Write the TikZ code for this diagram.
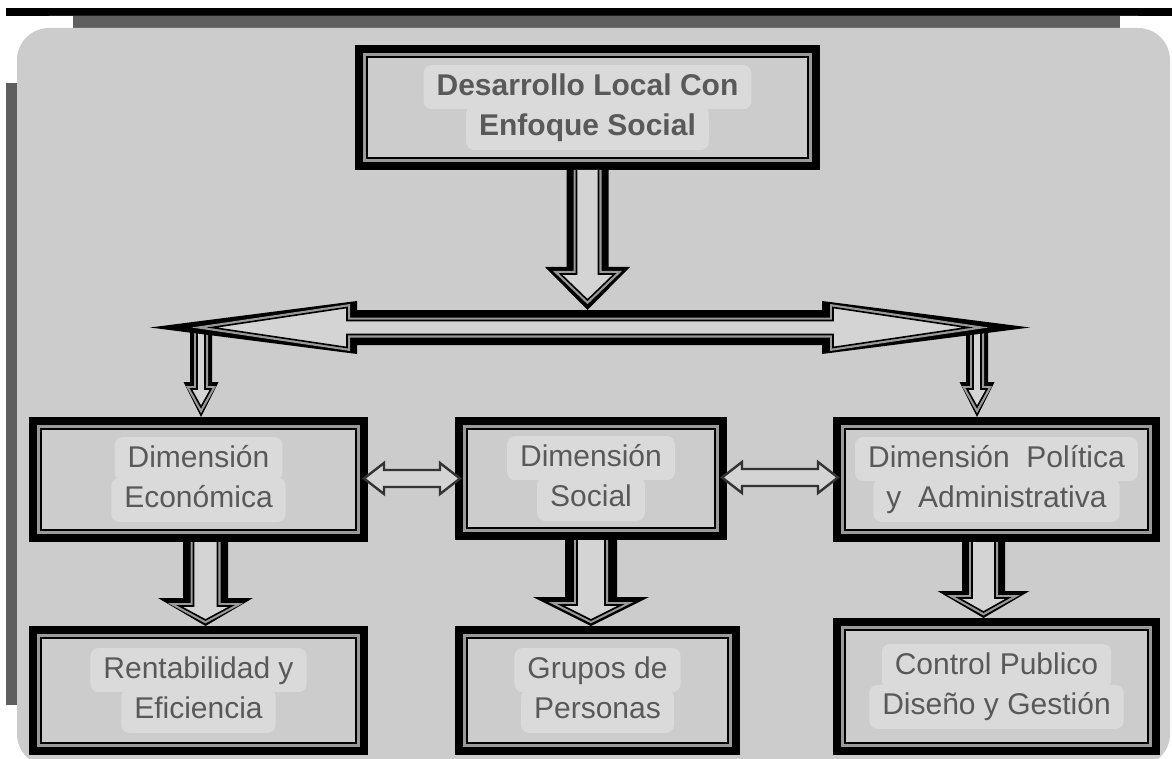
\documentclass[tikz,border=0pt]{standalone}
\usepackage{fontspec}
\setmainfont{Liberation Sans}
\usetikzlibrary{positioning,calc}

\definecolor{panel}{HTML}{CCCCCC}
\definecolor{strip}{HTML}{5F5F5F}
\definecolor{gapgray}{HTML}{9A9A9A}
\definecolor{hlgray}{HTML}{DADADA}
\definecolor{txtgray}{HTML}{595959}
\definecolor{arrfill}{HTML}{D4D4D4}

\tikzset{
  box/.style={rectangle, outer sep=6pt,
    preaction={draw=black, line width=12pt},
    preaction={fill=panel},
    preaction={draw=gapgray, line width=4pt},
    fill=panel, draw=black, line width=1pt},
  hl/.style={fill=hlgray, rounded corners=4pt, text=txtgray,
    font=\fontsize{15}{18}\selectfont, inner xsep=6.5pt, inner ysep=3.5pt,
    text height=11.5pt, text depth=3.5pt},
  inblock/.style={preaction={draw=gapgray, line width=3pt},
    fill=arrfill, draw=black, line width=0.8pt},
  linkarr/.style={fill=arrfill, draw=black!80, line width=1.2pt}
}

% block arrow pointing down: from, to, shaft, head, head length,
% then the inner outline: shaft, head, head length, tip inset (px)
\newcommand{\vblock}[9]{%
  \fill[black] let \p1=(#1), \p2=(#2) in
    (\x1-#3*0.5pt,\y1) -- (\x1-#3*0.5pt,\y2+#5*0.5pt) -- (\x1-#4*0.5pt,\y2+#5*0.5pt)
    -- (\x1,\y2) -- (\x1+#4*0.5pt,\y2+#5*0.5pt) -- (\x1+#3*0.5pt,\y2+#5*0.5pt)
    -- (\x1+#3*0.5pt,\y1) -- cycle;
  \path[inblock] let \p1=(#1), \p3=($(#2)+(0,-#9)$) in
    (\x1-#6*0.5pt,\y1) -- (\x1-#6*0.5pt,\y3+#8*0.5pt) -- (\x1-#7*0.5pt,\y3+#8*0.5pt)
    -- (\x1,\y3) -- (\x1+#7*0.5pt,\y3+#8*0.5pt) -- (\x1+#6*0.5pt,\y3+#8*0.5pt)
    -- (\x1+#6*0.5pt,\y1);
}
% thin double arrow between two boxes
\newcommand{\linkarrow}[2]{%
  \path[linkarr] let \p1=(#1), \p2=(#2) in
    (\x1,\y1) -- (\x1+10pt,\y1+7.75pt) -- (\x1+10pt,\y1+4.25pt)
    -- (\x2-10pt,\y1+4.25pt) -- (\x2-10pt,\y1+7.75pt) -- (\x2,\y1)
    -- (\x2-10pt,\y1-7.75pt) -- (\x2-10pt,\y1-4.25pt)
    -- (\x1+10pt,\y1-4.25pt) -- (\x1+10pt,\y1-7.75pt) -- cycle;
}

\begin{document}
\begin{tikzpicture}[x=0.5pt,y=-0.5pt]
  \useasboundingbox (0,0) rectangle (1172,759);
  % screen frame
  \fill[white] (0,0) rectangle (1172,759);
  \fill[black] (6,8) rectangle (1172,16);
  \draw[white, line width=6pt, rounded corners=19pt] (11,22) rectangle (1176,772);
  \fill[strip] (73,16) rectangle (1120,28);
  \fill[strip] (6,83) rectangle (17,705);
  \fill[panel, rounded corners=16pt] (17,28) rectangle (1170,766);

  % boxes
  \node[box, minimum width=220.5pt, minimum height=50.5pt] (top) at (587.5,107.5) {};
  \node[box, minimum width=157.5pt, minimum height=50.5pt] (econ) at (198.5,479.5) {};
  \node[box, minimum width=124pt, minimum height=49.5pt] (social) at (591,478.5) {};
  \node[box, minimum width=151.5pt, minimum height=50.5pt] (poli) at (996.5,479.5) {};
  \node[box, minimum width=157.5pt, minimum height=52.5pt] (rent) at (198.5,690.5) {};
  \node[box, minimum width=130.5pt, minimum height=52.5pt] (grupos) at (597.5,690.5) {};
  \node[box, minimum width=151.5pt, minimum height=56.5pt] (control) at (996.5,686.5) {};

  % texts
  \node[hl, font=\fontsize{15}{18}\selectfont\bfseries, above=-1pt of top.center] (top1) {Desarrollo Local Con};
  \node[hl, font=\fontsize{15}{18}\selectfont\bfseries, below=-1pt of top.center] (top2) {Enfoque Social};
  \node[hl, above=-1pt of econ.center] (econ1) {Dimensión};
  \node[hl, below=-1pt of econ.center] (econ2) {Económica};
  \node[hl, above=-1pt of social.center] (social1) {Dimensión};
  \node[hl, below=-1pt of social.center] (social2) {Social};
  \node[hl, above=-1pt of poli.center] (poli1) {Dimensión\ \ Política};
  \node[hl, below=-1pt of poli.center] (poli2) {y\ \ Administrativa};
  \node[hl, above=-1pt of rent.center] (rent1) {Rentabilidad y};
  \node[hl, below=-1pt of rent.center] (rent2) {Eficiencia};
  \node[hl, above=-1pt of grupos.center] (grupos1) {Grupos de};
  \node[hl, below=-1pt of grupos.center] (grupos2) {Personas};
  \node[hl, above=-1pt of control.center] (control1) {Control Publico};
  \node[hl, below=-1pt of control.center] (control2) {Diseño y Gestión};

  % the long double arrow
  \coordinate (barL) at (150,327.5);
  \coordinate (barR) at (1030,327.5);
  \coordinate (barC) at (587.5,310);
  \coordinate (dropL) at (201,324);
  \coordinate (dropR) at (977,324);

  \vblock{dropL}{econ.north}{11}{17.5}{35}{4}{10}{18}{10}
  \vblock{dropR}{poli.north}{11}{17.5}{35}{4}{10}{18}{10}
  \vblock{top.south}{barC}{21}{42.5}{43}{11}{27}{26}{10}

  \fill[black] let \p1=(barL), \p2=(barR) in
    (\x1,\y1) -- (\x1+103.5pt,\y1+13.25pt) -- (\x1+103.5pt,\y1+8.75pt)
    -- (\x2-104pt,\y1+8.75pt) -- (\x2-104pt,\y1+13.25pt) -- (\x2,\y1)
    -- (\x2-104pt,\y1-13.25pt) -- (\x2-104pt,\y1-8.75pt)
    -- (\x1+103.5pt,\y1-8.75pt) -- (\x1+103.5pt,\y1-13.25pt) -- cycle;
  \path[inblock] let \p1=(barL), \p2=(barR) in
    (\x1+31pt,\y1) -- (\x1+98.5pt,\y1+10pt) -- (\x1+98.5pt,\y1+3.5pt)
    -- (\x2-98.5pt,\y1+3.5pt) -- (\x2-98.5pt,\y1+10pt) -- (\x2-31pt,\y1)
    -- (\x2-98.5pt,\y1-10pt) -- (\x2-98.5pt,\y1-3.5pt)
    -- (\x1+98.5pt,\y1-3.5pt) -- (\x1+98.5pt,\y1-10pt) -- cycle;

  % down to the last row
  \vblock{$(econ.south)+(7,0)$}{rent.north}{22.5}{47.5}{28}{12}{26}{14}{6}
  \vblock{social.south}{grupos.north}{26}{58}{29}{14}{30}{15}{6}
  \vblock{$(poli.south)+(-13,0)$}{control.north}{21.5}{46}{27}{11.5}{25}{14}{6}

  % links between the dimensions
  \linkarrow{$(econ.east)+(-4,-1)$}{$(social.west)+(5,0)$}
  \linkarrow{$(social.east)+(-5,-1)$}{$(poli.west)+(5,0)$}
\end{tikzpicture}
\end{document}
